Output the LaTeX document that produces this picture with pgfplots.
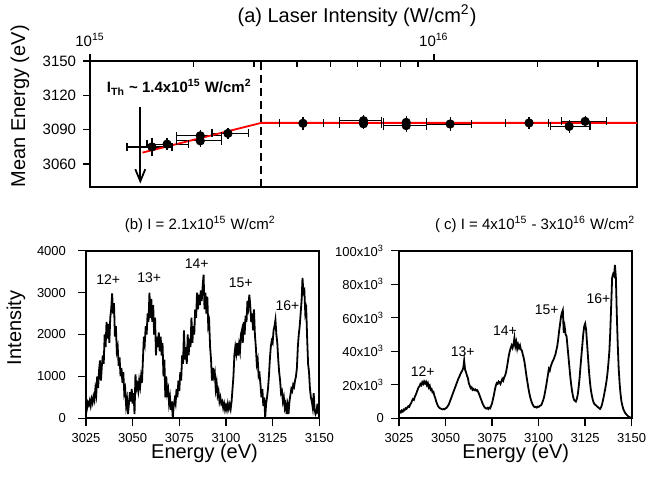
\documentclass[border=0pt]{standalone}
\usepackage{fontspec}
\setmainfont{Liberation Sans}
\usepackage{pgfplots}
\usepackage{pgfplotstable}
\pgfplotsset{compat=1.18}
\usetikzlibrary{arrows.meta}

\newcommand\fs[1]{\fontsize{#1}{1.15\dimexpr#1pt\relax}\selectfont}

% mean photon energy vs. laser intensity: intensity, energy, energy error
\pgfplotstableread{
I         E       dE
1.514e15  3075.0  4.5
1.675e15  3077.4  1.5
2.092e15  3084.7  2.0
2.092e15  3080.3  2.0
2.518e15  3086.8  1.5
4.161e15  3095.6  2.0
6.242e15  3097.9  1.5
6.242e15  3095.2  1.5
8.310e15  3096.4  2.0
8.310e15  3093.6  2.0
1.115e16  3095.0  2.5
1.892e16  3095.9  1.5
2.474e16  3092.9  2.0
2.754e16  3097.3  1.5
}\meanenergy

% spectrum at 2.1x10^15 W/cm^2
\pgfplotstableread{
E I
3025.0 300
3025.5 230
3026.0 380
3026.5 320
3027.0 420
3027.5 300
3028.0 460
3028.5 370
3029.0 520
3029.5 430
3030.0 700
3030.5 560
3031.0 1000
3031.5 720
3032.0 1150
3032.5 1380
3033.0 900
3033.5 1250
3034.0 1500
3034.5 1300
3035.0 2000
3035.5 1700
3036.0 2300
3036.5 1900
3037.0 2250
3037.5 1800
3038.0 2400
3038.5 2600
3039.0 2980
3039.5 2500
3040.0 2750
3040.5 1950
3041.0 2200
3041.5 1600
3042.0 1700
3042.5 1250
3043.0 1450
3043.5 1000
3044.0 1200
3044.5 850
3045.0 1100
3045.5 600
3046.0 700
3046.5 300
3047.0 450
3047.5 100
3048.0 350
3048.5 620
3049.0 400
3049.5 700
3050.0 350
3050.5 600
3051.0 100
3051.5 1050
3052.0 700
3052.5 800
3053.0 650
3053.5 900
3054.0 750
3054.5 1000
3055.0 850
3055.5 1400
3056.0 1950
3056.5 1800
3057.0 2200
3057.5 2000
3058.0 2500
3058.5 2300
3059.0 3000
3059.5 2400
3060.0 2850
3060.5 2300
3061.0 2700
3061.5 2000
3062.0 2400
3062.5 1500
3063.0 1950
3063.5 1700
3064.0 2050
3064.5 1600
3065.0 1950
3065.5 1500
3066.0 1800
3066.5 1000
3067.0 1400
3067.5 500
3068.0 1000
3068.5 600
3069.0 700
3069.5 350
3070.0 500
3070.5 200
3071.0 400
3071.5 0
3072.0 300
3072.5 450
3073.0 350
3073.5 700
3074.0 500
3074.5 900
3075.0 650
3075.5 1100
3076.0 900
3076.5 1500
3077.0 1300
3077.5 2100
3078.0 1400
3078.5 1700
3079.0 1300
3079.5 2000
3080.0 1500
3080.5 1900
3081.0 1700
3081.5 2400
3082.0 1800
3082.5 2200
3083.0 2000
3083.5 2600
3084.0 2400
3084.5 3000
3085.0 2600
3085.5 2950
3086.0 2700
3086.5 3050
3087.0 2800
3087.5 3150
3088.0 3430
3088.5 2600
3089.0 3000
3089.5 2500
3090.0 2900
3090.5 2200
3091.0 2300
3091.5 1700
3092.0 1400
3092.5 900
3093.0 1200
3093.5 1000
3094.0 1100
3094.5 700
3095.0 850
3095.5 550
3096.0 650
3096.5 400
3097.0 500
3097.5 350
3098.0 400
3098.5 250
3099.0 350
3099.5 200
3100.0 300
3100.5 200
3101.0 350
3101.5 230
3102.0 330
3102.5 220
3103.0 400
3103.5 700
3104.0 1000
3104.5 1500
3105.0 1700
3105.5 1550
3106.0 1800
3106.5 1500
3107.0 1750
3107.5 1600
3108.0 2000
3108.5 2100
3109.0 1800
3109.5 2300
3110.0 2000
3110.5 2450
3111.0 2300
3111.5 2800
3112.0 2650
3112.5 2950
3113.0 2700
3113.5 2300
3114.0 2500
3114.5 2100
3115.0 2600
3115.5 2000
3116.0 1700
3116.5 1300
3117.0 1400
3117.5 1000
3118.0 1050
3118.5 800
3119.0 500
3119.5 700
3120.0 300
3120.5 500
3121.0 0
3121.5 350
3122.0 500
3122.5 700
3123.0 1000
3123.5 1400
3124.0 1700
3124.5 1850
3125.0 1800
3125.5 2100
3126.0 2200
3126.5 2350
3127.0 2000
3127.5 1800
3128.0 1400
3128.5 1100
3129.0 900
3129.5 600
3130.0 650
3130.5 400
3131.0 500
3131.5 250
3132.0 350
3132.5 100
3133.0 300
3133.5 100
3134.0 400
3134.5 550
3135.0 700
3135.5 650
3136.0 800
3136.5 750
3137.0 900
3137.5 1000
3138.0 1200
3138.5 1700
3139.0 2000
3139.5 2200
3140.0 2500
3140.5 2800
3141.0 3350
3141.5 3000
3142.0 3050
3142.5 2500
3143.0 2600
3143.5 1900
3144.0 1300
3144.5 1100
3145.0 700
3145.5 500
3146.0 400
3146.5 250
3147.0 600
3147.5 200
3148.0 100
3148.5 150
3149.0 350
3149.5 100
3150.0 300
}\specb

% spectrum summed over 4x10^15 - 3x10^16 W/cm^2
\pgfplotstableread{
E I
3025.0 3000
3025.5 4200
3026.0 3500
3026.5 4600
3027.0 4000
3027.5 5200
3028.0 4800
3028.5 6000
3029.0 5600
3029.5 6500
3030.0 7200
3030.5 6800
3031.0 8200
3031.5 9000
3032.0 10500
3032.5 11500
3033.0 11000
3033.5 12800
3034.0 14000
3034.5 15500
3035.0 17000
3035.5 18500
3036.0 19000
3036.5 20500
3037.0 19800
3037.5 21500
3038.0 20500
3038.5 22000
3039.0 20800
3039.5 21800
3040.0 19800
3040.5 21000
3041.0 18500
3041.5 19500
3042.0 17000
3042.5 17500
3043.0 15500
3043.5 15800
3044.0 13500
3044.5 12000
3045.0 10000
3045.5 8500
3046.0 7200
3046.5 6500
3047.0 6000
3047.5 5800
3048.0 5500
3048.5 5300
3049.0 5600
3049.5 5400
3050.0 6000
3050.5 6200
3051.0 7000
3051.5 7800
3052.0 9000
3052.5 10500
3053.0 12000
3053.5 13500
3054.0 15000
3054.5 16500
3055.0 18000
3055.5 19500
3056.0 21000
3056.5 22500
3057.0 24000
3057.5 25000
3058.0 26500
3058.5 27500
3059.0 28500
3059.5 30000
3060.0 34500
3060.5 29000
3061.0 27500
3061.5 25500
3062.0 24000
3062.5 21000
3063.0 19500
3063.5 18000
3064.0 18500
3064.5 17000
3065.0 17500
3065.5 16800
3066.0 17200
3066.5 16500
3067.0 16800
3067.5 15800
3068.0 14500
3068.5 13000
3069.0 11500
3069.5 10000
3070.0 8500
3070.5 7500
3071.0 6500
3071.5 6000
3072.0 5800
3072.5 6200
3073.0 5600
3073.5 6400
3074.0 6000
3074.5 7500
3075.0 9000
3075.5 11500
3076.0 14000
3076.5 17000
3077.0 19500
3077.5 21000
3078.0 20500
3078.5 22000
3079.0 21500
3079.5 20500
3080.0 22000
3080.5 23500
3081.0 22500
3081.5 24500
3082.0 25500
3082.5 27500
3083.0 30500
3083.5 34000
3084.0 37500
3084.5 40000
3085.0 42000
3085.5 43500
3086.0 42000
3086.5 44000
3087.0 48000
3087.5 43000
3088.0 45500
3088.5 41500
3089.0 44000
3089.5 42000
3090.0 43500
3090.5 41000
3091.0 40500
3091.5 38000
3092.0 36000
3092.5 33000
3093.0 29000
3093.5 25000
3094.0 21500
3094.5 18000
3095.0 15000
3095.5 12500
3096.0 10500
3096.5 9000
3097.0 7800
3097.5 7000
3098.0 6600
3098.5 6800
3099.0 6400
3099.5 7000
3100.0 6800
3100.5 7300
3101.0 7600
3101.5 8000
3102.0 9500
3102.5 11000
3103.0 13000
3103.5 16000
3104.0 19000
3104.5 22500
3105.0 26000
3105.5 29500
3106.0 28500
3106.5 31000
3107.0 32500
3107.5 34000
3108.0 35000
3108.5 36500
3109.0 38000
3109.5 40500
3110.0 43000
3110.5 47000
3111.0 52000
3111.5 56000
3112.0 60500
3112.5 63000
3113.0 64500
3113.5 51000
3114.0 54500
3114.5 50000
3115.0 49000
3115.5 43000
3116.0 37000
3116.5 31000
3117.0 25000
3117.5 20000
3118.0 16000
3118.5 13000
3119.0 11000
3119.5 10500
3120.0 10000
3120.5 11500
3121.0 14000
3121.5 18500
3122.0 24000
3122.5 31000
3123.0 37500
3123.5 44000
3124.0 50500
3124.5 55000
3125.0 56500
3125.5 53000
3126.0 45000
3126.5 37000
3127.0 29000
3127.5 22500
3128.0 17500
3128.5 14000
3129.0 11500
3129.5 9500
3130.0 8500
3130.5 8000
3131.0 7500
3131.5 7000
3132.0 6500
3132.5 6000
3133.0 5600
3133.5 6500
3134.0 8000
3134.5 10500
3135.0 13000
3135.5 16000
3136.0 19000
3136.5 22500
3137.0 27000
3137.5 33000
3138.0 40000
3138.5 52000
3139.0 68000
3139.5 84000
3140.0 86000
3140.5 85000
3141.0 91500
3141.5 84000
3142.0 62000
3142.5 44000
3143.0 30000
3143.5 21000
3144.0 14500
3144.5 10000
3145.0 7500
3145.5 5500
3146.0 4200
3146.5 3200
3147.0 2500
3147.5 1800
3148.0 1300
3148.5 900
3149.0 600
3149.5 400
3150.0 200
}\specc

\begin{document}
\begin{tikzpicture}
\useasboundingbox (0,0) rectangle (324pt,241pt);
\pgfplotsset{
  every axis/.append style={
    scale only axis,
    axis line style={line width=0.9pt},
    tick style={black, line width=0.7pt},
    tick align=outside,
    /pgf/number format/assume math mode=true,
    /pgf/number format/1000 sep={},
    label style={font=\fs{10}},
  },
}

% (a) mean energy vs. laser intensity
\begin{axis}[
  at={(45pt,147.5pt)}, anchor=south west,
  width=273.5pt, height=63pt,
  xmode=log, xmin=1e15, xmax=3.9e16,
  ymin=3040, ymax=3150,
  xtick={1e15,1e16},
  xticklabels={10\textsuperscript{15},10\textsuperscript{16}},
  minor xtick={2e15,3e15,4e15,5e15,6e15,7e15,8e15,9e15,2e16,3e16},
  minor x tick style={yshift=-3pt},
  xtick pos=right, xticklabel pos=right,
  ytick={3060,3090,3120,3150},
  ytick pos=left,
  major tick length=3.5pt, minor tick length=3pt,
  tick label style={font=\fs{7.5}},
  xlabel={(a) Laser Intensity (W/cm\textsuperscript{2})},
  xlabel style={at={(axis description cs:0.488,1.36)}, anchor=center},
  ylabel={Mean Energy (eV)},
  ylabel style={at={(axis description cs:-0.128,0.64)}, anchor=center},
  clip=false,
  unbounded coords=jump,
]
\addplot[black, line width=0.9pt, dash pattern=on 4pt off 2.5pt]
  coordinates {(3.15e15,3040) (3.15e15,3150)};
% horizontal (intensity) error bars, lower and upper bound of each point
\addplot[black, line width=0.6pt, mark=|, mark size=2pt,
  mark options={line width=0.6pt}]
  coordinates {
  (1.281e15,3075.0) (1.730e15,3075.0) (nan,nan)
  (1.465e15,3077.4) (1.934e15,3077.4) (nan,nan)
  (1.782e15,3084.7) (2.408e15,3084.7) (nan,nan)
  (1.782e15,3080.3) (2.408e15,3080.3) (nan,nan)
  (2.263e15,3086.8) (2.891e15,3086.8) (nan,nan)
  (3.557e15,3095.6) (4.776e15,3095.6) (nan,nan)
  (5.315e15,3097.9) (7.029e15,3097.9) (nan,nan)
  (5.315e15,3095.2) (7.029e15,3095.2) (nan,nan)
  (7.138e15,3096.4) (9.543e15,3096.4) (nan,nan)
  (7.138e15,3093.6) (9.543e15,3093.6) (nan,nan)
  (9.543e15,3095.0) (1.290e16,3095.0) (nan,nan)
  (1.612e16,3095.9) (2.154e16,3095.9) (nan,nan)
  (2.188e16,3092.9) (2.847e16,3092.9) (nan,nan)
  (2.356e16,3097.3) (3.170e16,3097.3)
  };
\addplot[black, only marks, mark=*, mark size=2.1pt,
  error bars/.cd, y dir=both, y explicit,
  error bar style={line width=0.6pt, black},
  error mark options={line width=0.6pt, mark size=2pt, black}]
  table[x=I, y=E, y error=dE] {\meanenergy};
\addplot[red, line width=0.9pt]
  coordinates {(1.42e15,3070) (3.15e15,3096) (3.9e16,3096)};
\draw[line width=0.9pt, -{Straight Barb[length=6pt, width=5pt, line width=0.9pt]}]
  (axis cs:1.4e15,3110) -- (axis cs:1.4e15,3043);
\node[anchor=west, font=\bfseries\fs{7.5}] at (rel axis cs:0.018,0.79)
  {I\textsubscript{Th} \textasciitilde{} 1.4x10\textsuperscript{15} W/cm\textsuperscript{2}};
\end{axis}

% (b) spectrum near threshold
\begin{axis}[
  at={(43pt,31.85pt)}, anchor=south west,
  width=116.65pt, height=83.8pt,
  xmin=3025, xmax=3150, ymin=0, ymax=4000,
  xtick={3025,3050,...,3150},
  ytick={0,1000,...,4000},
  xtick pos=left, ytick pos=left,
  major tick length=4pt,
  tick label style={font=\fs{6.5}},
  yticklabel style={xshift=-2.5pt},
  xlabel={Energy (eV)},
  xlabel style={at={(axis description cs:0.508,-0.207)}, anchor=center},
  ylabel={Intensity},
  ylabel style={at={(axis description cs:-0.30,0.54)}, anchor=center},
  title={(b) I = 2.1x10\textsuperscript{15} W/cm\textsuperscript{2}},
  title style={at={(axis description cs:0.49,1.085)}, anchor=center, font=\fs{7.5}},
]
\addplot[black, line width=0.9pt] table[x=E, y=I] {\specb};
\node[font=\fs{7}] at (axis cs:3036.9,3317) {12+};
\node[font=\fs{7}] at (axis cs:3058.9,3348) {13+};
\node[font=\fs{7}] at (axis cs:3084.3,3683) {14+};
\node[font=\fs{7}] at (axis cs:3107.9,3236) {15+};
\node[font=\fs{7}] at (axis cs:3132.9,2697) {16+};
\end{axis}

% (c) spectrum at higher intensities
\begin{axis}[
  at={(199.5pt,31.85pt)}, anchor=south west,
  width=116.35pt, height=83.8pt,
  xmin=3025, xmax=3150, ymin=0, ymax=100000,
  xtick={3025,3050,...,3150},
  ytick={0,20000,40000,60000,80000,100000},
  yticklabels={0,20x10\textsuperscript{3},40x10\textsuperscript{3},60x10\textsuperscript{3},80x10\textsuperscript{3},100x10\textsuperscript{3}},
  scaled y ticks=false,
  xtick pos=left, ytick pos=left,
  major tick length=4pt,
  tick label style={font=\fs{6.5}},
  xlabel={Energy (eV)},
  xlabel style={at={(axis description cs:0.502,-0.207)}, anchor=center},
  title={( c) I = 4x10\textsuperscript{15} - 3x10\textsuperscript{16} W/cm\textsuperscript{2}},
  title style={at={(axis description cs:0.585,1.085)}, anchor=center, font=\fs{7.5}},
]
\addplot[black, line width=0.9pt] table[x=E, y=I] {\specc};
\node[font=\fs{7}] at (axis cs:3037.7,27800) {12+};
\node[font=\fs{7}] at (axis cs:3059.2,39700) {13+};
\node[font=\fs{7}] at (axis cs:3081.9,52100) {14+};
\node[font=\fs{7}] at (axis cs:3104.3,65000) {15+};
\node[font=\fs{7}] at (axis cs:3132.1,71600) {16+};
\end{axis}
\end{tikzpicture}
\end{document}
